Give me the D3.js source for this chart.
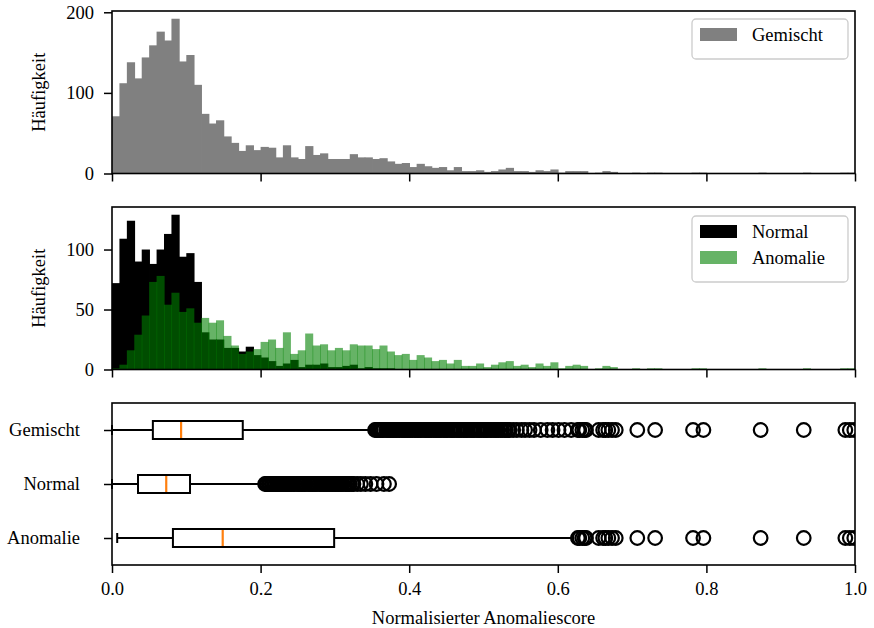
<!DOCTYPE html>
<html>
<head>
<meta charset="utf-8">
<script src="https://cdn.jsdelivr.net/npm/d3@7"></script>
<style>
body { margin: 0; background: #fff; }
text { font-family: "Liberation Serif", serif; }
</style>
</head>
<body>
<div id="chart"></div>
<script>
const width = 874
const height = 628

// histogram counts, 100 bins of width 0.01 on [0, 1]
const binWidth = 0.01
const gemischt = [71,112,138,118,144,159,176,165,192,139,
    147,110,74,62,66,46,38,28,35,29,
    33,32,20,35,20,18,34,23,25,18,
    18,18,24,20,20,18,19,15,12,13,
    8,12,9,7,8,4,8,3,3,4,
    2,3,5,7,3,3,2,4,3,5,
    1,3,3,3,0,1,3,2,0,0,
    1,0,1,1,0,0,0,0,1,1,
    0,0,0,0,0,0,0,1,0,0,
    0,0,0,1,0,0,0,0,1,1]
const normal = [72,109,124,90,100,88,100,113,129,94,
    97,73,31,25,25,18,18,15,19,12,
    10,7,3,5,8,2,4,4,5,2,
    2,3,4,1,2,1,1,1,0,0,
    0,0,0,0,0,0,0,0,0,0,
    0,0,0,0,0,0,0,0,0,0,
    0,0,0,0,0,0,0,0,0,0,
    0,0,0,0,0,0,0,0,0,0,
    0,0,0,0,0,0,0,0,0,0,
    0,0,0,0,0,0,0,0,0,0]
const anomalie = [1,4,16,29,45,73,78,54,64,48,
    51,39,43,39,41,28,20,13,15,17,
    23,25,18,31,13,16,30,20,21,16,
    18,16,21,20,20,17,20,15,12,13,
    8,12,10,7,8,5,8,3,3,5,
    2,4,6,7,3,4,2,5,3,6,
    1,3,4,3,0,1,3,2,0,0,
    1,0,1,1,0,0,0,0,1,1,
    0,0,0,0,0,0,0,1,0,0,
    0,0,0,1,0,0,0,0,1,1]

// boxplot statistics
const kategorien = ["Gemischt", "Normal", "Anomalie"]
const whiskerLow = [0.0, 0.0, 0.007]
const q1 = [0.055, 0.035, 0.082]
const median = [0.093, 0.073, 0.149]
const q3 = [0.176, 0.105, 0.299]
const whiskerHigh = [0.352, 0.203, 0.621]

const fliersGemischt = [0.354,0.356,0.358,0.360,0.362,0.364,0.366,0.369,0.371,0.373,
    0.375,0.377,0.379,0.381,0.383,0.385,0.387,0.390,0.392,0.394,
    0.396,0.398,0.400,0.402,0.404,0.407,0.409,0.411,0.413,0.415,
    0.417,0.420,0.422,0.424,0.426,0.428,0.430,0.433,0.435,0.437,
    0.439,0.441,0.443,0.446,0.448,0.450,0.452,0.455,0.457,0.459,
    0.461,0.464,0.466,0.468,0.470,0.473,0.475,0.477,0.479,0.482,
    0.484,0.486,0.488,0.491,0.493,0.495,0.497,0.500,0.502,0.504,
    0.506,0.509,0.511,0.514,0.516,0.518,0.520,0.523,0.525,0.528,
    0.530,0.533,0.535,0.540,0.545,0.551,0.556,0.562,0.568,0.577,
    0.586,0.593,0.601,0.609,0.618,0.627,0.629,0.633,0.636,0.638,
    0.655,0.661,0.664,0.668,0.673,0.678,0.707,0.731,0.782,0.796,
    0.873,0.931,0.987,0.993,0.999]
const fliersNormal = [0.206,0.208,0.209,0.211,0.213,0.215,0.216,0.218,0.220,0.222,
    0.224,0.226,0.227,0.229,0.231,0.233,0.235,0.237,0.238,0.240,
    0.242,0.244,0.246,0.249,0.251,0.253,0.255,0.257,0.259,0.261,
    0.264,0.266,0.268,0.270,0.272,0.274,0.276,0.279,0.281,0.283,
    0.285,0.287,0.289,0.291,0.293,0.295,0.297,0.299,0.301,0.303,
    0.305,0.307,0.309,0.311,0.314,0.316,0.318,0.320,0.323,0.325,
    0.330,0.335,0.341,0.348,0.356,0.366,0.373]
const fliersAnomalie = [0.627,0.629,0.633,0.636,0.638,0.655,0.661,0.664,0.668,0.673,
    0.678,0.707,0.731,0.782,0.796,0.873,0.931,0.987,0.993,0.999]

const xTicks = [0, 0.2, 0.4, 0.6, 0.8, 1.0]
const yTicksTop = [0, 100, 200]
const yTicksMid = [0, 50, 100]

const fontSize = "18.5px"
const left = 112, right = 855
const panels = {
    top: [11, 173.5],
    mid: [207, 369.5],
    box: [403, 565]
}

const svg = d3.select("#chart").append("svg")
    .attr("width", width)
    .attr("height", height)

const x = d3.scaleLinear().domain([0, 1]).range([left, right])

const yTop = d3.scaleLinear().domain([0, d3.max(gemischt) * 1.05]).range([panels.top[1], panels.top[0]])
const yMid = d3.scaleLinear().domain([0, d3.max(normal) * 1.05]).range([panels.mid[1], panels.mid[0]])
const yBox = d3.scalePoint().domain(kategorien).range([panels.box[0], panels.box[1]]).padding(0.5)

function styleAxis(g) {
    g.select(".domain").remove()
    g.selectAll(".tick line").attr("stroke", "black").attr("stroke-width", 1.5)
    g.selectAll(".tick text").attr("fill", "black").style("font-size", fontSize)
        .style("font-family", "Liberation Serif")
}

function drawBars(data, yScale, fill, opacity, extra) {
    return svg.append("g").selectAll("rect")
        .data(data)
        .join("rect")
        .attr("x", (d, i) => x(i * binWidth))
        .attr("width", x(binWidth) - x(0) + extra)
        .attr("y", d => yScale(d))
        .attr("height", d => yScale(0) - yScale(d))
        .attr("fill", fill)
        .attr("fill-opacity", opacity)
}

// ---- top panel: Gemischt
drawBars(gemischt, yTop, "#808080", 1, 0.8)

// ---- middle panel: Normal + Anomalie
drawBars(normal, yMid, "black", 1, 0.8)
drawBars(anomalie, yMid, "green", 0.6, 0.6)

// ---- bottom panel: boxplots
const boxH = 18, capH = 10, lw = 2
const boxG = svg.append("g")
kategorien.forEach((k, i) => {
    const cy = yBox(k)
    const g = boxG.append("g")
    g.append("line").attr("x1", x(whiskerLow[i])).attr("x2", x(q1[i]))
        .attr("y1", cy).attr("y2", cy).attr("stroke", "black").attr("stroke-width", lw)
    g.append("line").attr("x1", x(q3[i])).attr("x2", x(whiskerHigh[i]))
        .attr("y1", cy).attr("y2", cy).attr("stroke", "black").attr("stroke-width", lw)
    ;[whiskerLow[i], whiskerHigh[i]].forEach(v => {
        g.append("line").attr("x1", x(v)).attr("x2", x(v))
            .attr("y1", cy - capH / 2).attr("y2", cy + capH / 2)
            .attr("stroke", "black").attr("stroke-width", lw)
    })
    g.append("rect").attr("x", x(q1[i])).attr("width", x(q3[i]) - x(q1[i]))
        .attr("y", cy - boxH / 2).attr("height", boxH)
        .attr("fill", "none").attr("stroke", "black").attr("stroke-width", lw)
    g.append("line").attr("x1", x(median[i])).attr("x2", x(median[i]))
        .attr("y1", cy - boxH / 2 + 1).attr("y2", cy + boxH / 2 - 1)
        .attr("stroke", "#ff7f0e").attr("stroke-width", 2.2)
})

svg.append("clipPath").attr("id", "boxclip")
    .append("rect").attr("x", left).attr("y", panels.box[0])
    .attr("width", right - left).attr("height", panels.box[1] - panels.box[0])

const fliers = [fliersGemischt, fliersNormal, fliersAnomalie]
fliers.forEach((arr, i) => {
    boxG.append("g").attr("clip-path", "url(#boxclip)")
        .selectAll("circle")
        .data(arr)
        .join("circle")
        .attr("cx", d => x(d))
        .attr("cy", yBox(kategorien[i]))
        .attr("r", 6.8)
        .attr("fill", "none")
        .attr("stroke", "black")
        .attr("stroke-width", 2.2)
})

// ---- frames and axes
Object.values(panels).forEach(p => {
    svg.append("rect")
        .attr("x", left).attr("y", p[0])
        .attr("width", right - left).attr("height", p[1] - p[0])
        .attr("fill", "none").attr("stroke", "black").attr("stroke-width", 1.6)
})

svg.append("g").attr("transform", `translate(0,${panels.top[1]})`)
    .call(d3.axisBottom(x).tickValues(xTicks).tickSize(8).tickFormat(""))
    .call(styleAxis)
svg.append("g").attr("transform", `translate(0,${panels.mid[1]})`)
    .call(d3.axisBottom(x).tickValues(xTicks).tickSize(8).tickFormat(""))
    .call(styleAxis)
svg.append("g").attr("transform", `translate(0,${panels.box[1]})`)
    .call(d3.axisBottom(x).tickValues(xTicks).tickSize(8).tickPadding(9).tickFormat(d3.format(".1f")))
    .call(styleAxis)

svg.append("g").attr("transform", `translate(${left},0)`)
    .call(d3.axisLeft(yTop).tickValues(yTicksTop).tickSize(8).tickPadding(10))
    .call(styleAxis)
svg.append("g").attr("transform", `translate(${left},0)`)
    .call(d3.axisLeft(yMid).tickValues(yTicksMid).tickSize(8).tickPadding(10))
    .call(styleAxis)
svg.append("g").attr("transform", `translate(${left},0)`)
    .call(d3.axisLeft(yBox).tickSize(8).tickPadding(24))
    .call(styleAxis)

// axis labels
;[panels.top, panels.mid].forEach(p => {
    svg.append("text")
        .attr("transform", `translate(45,${(p[0] + p[1]) / 2}) rotate(-90)`)
        .attr("text-anchor", "middle")
        .style("font-size", fontSize)
        .text("Häufigkeit")
})
svg.append("text")
    .attr("x", (left + right) / 2).attr("y", 624)
    .attr("text-anchor", "middle")
    .style("font-size", fontSize)
    .text("Normalisierter Anomaliescore")

// ---- legends
function legend(y0, items) {
    const lx = 692, lw = 156, lh = 14 + items.length * 26
    const g = svg.append("g")
    g.append("rect").attr("x", lx).attr("y", y0).attr("width", lw).attr("height", lh)
        .attr("rx", 4).attr("fill", "white").attr("fill-opacity", 0.8)
        .attr("stroke", "#cccccc").attr("stroke-width", 1.3)
    items.forEach((it, i) => {
        const cy = y0 + 16 + i * 26
        g.append("rect").attr("x", lx + 8).attr("y", cy - 7).attr("width", 37).attr("height", 13)
            .attr("fill", it.color).attr("fill-opacity", it.opacity)
        g.append("text").attr("x", lx + 60).attr("y", cy + 6)
            .style("font-size", fontSize).text(it.label)
    })
}
legend(19, [{ label: "Gemischt", color: "#808080", opacity: 1 }])
legend(216, [{ label: "Normal", color: "black", opacity: 1 },
             { label: "Anomalie", color: "green", opacity: 0.6 }])
</script>
</body>
</html>
